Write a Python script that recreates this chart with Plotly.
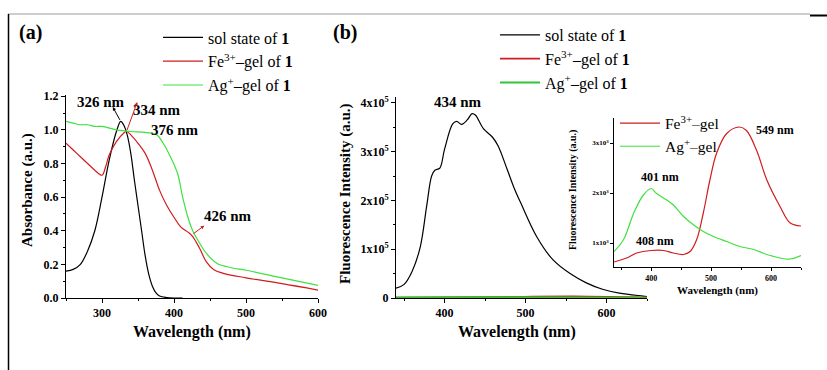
import plotly.graph_objects as go

# ---------------- data ----------------
# (a) absorbance
abs_sol_x = [250, 260, 270, 280, 290, 300, 310, 320, 326, 330, 335, 340, 345, 350, 355, 360, 365, 370, 375, 380, 390, 400, 412]
abs_sol_y = [0.16, 0.17, 0.20, 0.28, 0.40, 0.60, 0.82, 0.99, 1.05, 1.03, 0.97, 0.86, 0.70, 0.55, 0.40, 0.25, 0.14, 0.07, 0.03, 0.012, 0.003, 0.0, 0.0]
abs_fe_x = [250, 260, 270, 280, 290, 300, 305, 310, 320, 330, 334, 340, 350, 360, 370, 380, 390, 400, 410, 420, 426, 435, 445, 455, 470, 500, 550, 600]
abs_fe_y = [0.92, 0.88, 0.84, 0.80, 0.76, 0.73, 0.78, 0.85, 0.93, 0.98, 0.99, 0.97, 0.92, 0.86, 0.76, 0.64, 0.55, 0.48, 0.42, 0.39, 0.365, 0.30, 0.215, 0.17, 0.145, 0.12, 0.085, 0.047]
abs_ag_x = [250, 260, 270, 280, 290, 300, 320, 340, 360, 376, 385, 395, 405, 412, 420, 426, 435, 445, 460, 480, 500, 550, 600]
abs_ag_y = [1.05, 1.04, 1.03, 1.03, 1.02, 1.02, 1.00, 0.99, 0.985, 0.97, 0.92, 0.84, 0.74, 0.60, 0.47, 0.40, 0.33, 0.265, 0.205, 0.18, 0.165, 0.12, 0.075]

# (b) fluorescence, sol state (units of 1e5)
fl_sol_x = [340, 350, 360, 370, 378, 384, 388, 394, 400, 410, 415, 421, 428, 434, 438, 448, 459, 466, 477, 486, 494, 514, 534, 555, 575, 595, 616, 645, 650]
fl_sol_y = [0.20, 0.28, 0.55, 1.05, 1.90, 2.50, 2.62, 2.66, 3.05, 3.57, 3.62, 3.56, 3.65, 3.78, 3.75, 3.47, 3.30, 3.12, 2.65, 2.25, 1.95, 1.25, 0.78, 0.50, 0.31, 0.18, 0.10, 0.04, 0.03]

# gels (inset, units of 1e3)
fl_fe_x = [338, 359, 376, 400, 421, 437, 454, 465, 476, 487, 498, 509, 526, 547, 559, 576, 593, 615, 632, 650]
fl_fe_y = [0.62, 0.70, 0.80, 0.85, 0.85, 0.80, 0.77, 0.83, 1.07, 1.60, 2.26, 2.79, 3.19, 3.32, 3.25, 2.85, 2.26, 1.73, 1.40, 1.34]
fl_ag_x = [338, 354, 371, 387, 400, 409, 426, 437, 454, 471, 487, 504, 526, 548, 571, 593, 615, 632, 650]
fl_ag_y = [0.83, 1.07, 1.60, 1.96, 2.09, 1.99, 1.86, 1.76, 1.53, 1.36, 1.23, 1.13, 1.03, 0.93, 0.87, 0.77, 0.70, 0.68, 0.75]
gel_to_main = 1e3 / 1e5  # inset unit -> main unit

names_main = ["sol state of <b>1</b>", "Fe<sup>3+</sup>–gel of <b>1</b>", "Ag<sup>+</sup>–gel of <b>1</b>"]
names_inset = ["Fe<sup>3+</sup>–gel", "Ag<sup>+</sup>–gel"]
b_ticks = [0, 1, 2, 3, 4]
b_ticktext = ["0", "1x10<sup>5</sup>", "2x10<sup>5</sup>", "3x10<sup>5</sup>", "4x10<sup>5</sup>"]
in_ticks = [1, 2, 3]
in_ticktext = ["1x10<sup>3</sup>", "2x10<sup>3</sup>", "3x10<sup>3</sup>"]

BLACK = "#000000"
RED = "#d01c1c"
GREEN = "#3fe03f"
SERIF = "Liberation Serif"

W, H = 827, 370
def PX(x):
    return x / W
def PY(y):
    return 1 - y / H

fig = go.Figure()

# (a)
for xs, ys, c, n in [(abs_sol_x, abs_sol_y, BLACK, names_main[0]),
                     (abs_fe_x, abs_fe_y, RED, names_main[1]),
                     (abs_ag_x, abs_ag_y, GREEN, names_main[2])]:
    fig.add_trace(go.Scatter(x=xs, y=ys, mode="lines", line=dict(color=c, width=1.2),
                             name=n, xaxis="x", yaxis="y", legend="legend", line_shape="spline"))
# (b)
fig.add_trace(go.Scatter(x=fl_sol_x, y=fl_sol_y, mode="lines", line=dict(color=BLACK, width=1.2),
                         name=names_main[0], xaxis="x2", yaxis="y2", legend="legend2", line_shape="spline"))
fig.add_trace(go.Scatter(x=fl_fe_x, y=[v * gel_to_main for v in fl_fe_y], mode="lines",
                         line=dict(color=RED, width=1.8), name=names_main[1], xaxis="x2", yaxis="y2", legend="legend2"))
fig.add_trace(go.Scatter(x=fl_ag_x, y=[v * gel_to_main for v in fl_ag_y], mode="lines",
                         line=dict(color="#33c433", width=2), name=names_main[2], xaxis="x2", yaxis="y2", legend="legend2"))
# inset
fig.add_trace(go.Scatter(x=fl_fe_x, y=fl_fe_y, mode="lines", line=dict(color=RED, width=1.2),
                         name=names_inset[0], xaxis="x3", yaxis="y3", legend="legend3", line_shape="spline"))
fig.add_trace(go.Scatter(x=fl_ag_x, y=fl_ag_y, mode="lines", line=dict(color=GREEN, width=1.2),
                         name=names_inset[1], xaxis="x3", yaxis="y3", legend="legend3", line_shape="spline"))

tickfont = dict(family=SERIF, size=12, color="black", weight="bold")
small_tickfont = dict(family=SERIF, size=8, color="black", weight="bold")

def ax(domain, rng, anchor, **kw):
    d = dict(domain=domain, range=rng, anchor=anchor, showline=True, linecolor="black", linewidth=1,
             ticks="outside", ticklen=4, tickwidth=1, tickcolor="black", showgrid=False, zeroline=False,
             tickfont=tickfont, automargin=False, mirror=False)
    d.update(kw)
    return d

legfont = dict(family=SERIF, size=16, color="black")
fig.update_layout(
    width=W, height=H, margin=dict(l=0, r=0, t=0, b=0),
    paper_bgcolor="white", plot_bgcolor="rgba(0,0,0,0)",
    xaxis=ax([PX(66), PX(318)], [250, 600], "y", tick0=300, dtick=100,
             minor=dict(ticks="outside", ticklen=2, dtick=50, tick0=250, tickcolor="black")),
    yaxis=ax([PY(298), PY(94.5)], [0, 1.21], "x", tick0=0, dtick=0.2, tickformat=".1f",
             minor=dict(ticks="outside", ticklen=2, dtick=0.1, tick0=0, tickcolor="black")),
    xaxis2=ax([PX(396), PX(647)], [340, 650], "y2", tick0=400, dtick=100,
              minor=dict(ticks="outside", ticklen=2, dtick=50, tick0=350, tickcolor="black")),
    yaxis2=ax([PY(298), PY(97)], [0, 4.12], "x2", tickmode="array", tickvals=b_ticks, ticktext=b_ticktext,
              minor=dict(ticks="outside", ticklen=2, tickvals=[0.5, 1.5, 2.5, 3.5], tickcolor="black")),
    xaxis3=ax([PX(614), PX(801)], [338, 650], "y3", tick0=400, dtick=100, ticklen=3, tickfont=small_tickfont,
              minor=dict(ticks="outside", ticklen=2, dtick=50, tick0=350, tickcolor="black")),
    yaxis3=ax([PY(267), PY(118)], [0.52, 3.5], "x3", tickmode="array", tickvals=in_ticks, ticktext=in_ticktext,
              ticklen=3, tickfont=dict(family=SERIF, size=7, color="black", weight="bold")),
    legend=dict(x=PX(158), y=PY(20.5), xanchor="left", yanchor="top", bgcolor="rgba(0,0,0,0)",
                font=legfont, itemwidth=40, tracegroupgap=0),
    legend2=dict(x=PX(495), y=PY(18), xanchor="left", yanchor="top", bgcolor="rgba(0,0,0,0)",
                 font=legfont, itemwidth=40, tracegroupgap=0),
    legend3=dict(x=PX(615), y=PY(106.5), xanchor="left", yanchor="top", bgcolor="rgba(0,0,0,0)",
                 font=dict(family=SERIF, size=15.5, color="black"), itemwidth=40, tracegroupgap=0),
)

def label(text, x, y, size, xref="paper", yref="paper", angle=0, bold=True, color="black"):
    fig.add_annotation(text=text, x=x, y=y, xref=xref, yref=yref, showarrow=False, textangle=angle,
                       font=dict(family=SERIF, size=size, color=color, weight="bold" if bold else "normal"),
                       xanchor="center", yanchor="middle")

# panel labels
label("(a)", PX(30), PY(33), 20)
label("(b)", PX(345), PY(32), 20)
# axis titles
label("Absorbance (a.u.)", PX(27), PY(190), 15, angle=-90)
label("Wavelength (nm)", PX(192), PY(332), 16)
label("Fluorescence Intensity (a.u.)", PX(345), PY(194), 15, angle=-90)
label("Wavelength (nm)", PX(517), PY(332), 16)
label("Fluorescence Intensity (a.u.)", PX(573), PY(190), 10, angle=-90)
label("Wavelength (nm)", PX(717), PY(290), 11)

# peak labels
label("326 nm", 298.6, 1.165, 15, "x", "y")
label("334 nm", 376, 1.118, 15, "x", "y")
label("376 nm", 401, 1.0, 15, "x", "y")
label("426 nm", 475, 0.488, 15, "x", "y")
label("434 nm", 416, 4.02, 15, "x2", "y2")
label("549 nm", 607, 3.26, 12, "x3", "y3")
label("401 nm", 415, 2.32, 12, "x3", "y3")
label("408 nm", 407, 1.04, 12, "x3", "y3")

# arrows (head at x,y ; tail at ax,ay)
def arrow(x, y, axv, ayv, color):
    fig.add_annotation(text="", x=x, y=y, ax=axv, ay=ayv, xref="x", yref="y", axref="x", ayref="y",
                       showarrow=True, arrowhead=2, arrowsize=0.7, arrowwidth=1, arrowcolor=color)

arrow(315, 1.135, 326, 1.05, BLACK)
arrow(349, 1.165, 334, 0.99, RED)
arrow(442, 0.43, 425, 0.376, RED)

# page frame lines
fig.add_shape(type="line", xref="paper", yref="paper", x0=PX(8), x1=PX(810), y0=PY(14), y1=PY(14),
              line=dict(color="#9a9a9a", width=1))
fig.add_shape(type="line", xref="paper", yref="paper", x0=PX(8.5), x1=PX(8.5), y0=PY(14), y1=PY(370),
              line=dict(color="black", width=1.5))
fig.add_shape(type="line", xref="paper", yref="paper", x0=PX(810), x1=PX(827), y0=PY(15.5), y1=PY(15.5),
              line=dict(color="black", width=2))

fig.write_html("out.html")
